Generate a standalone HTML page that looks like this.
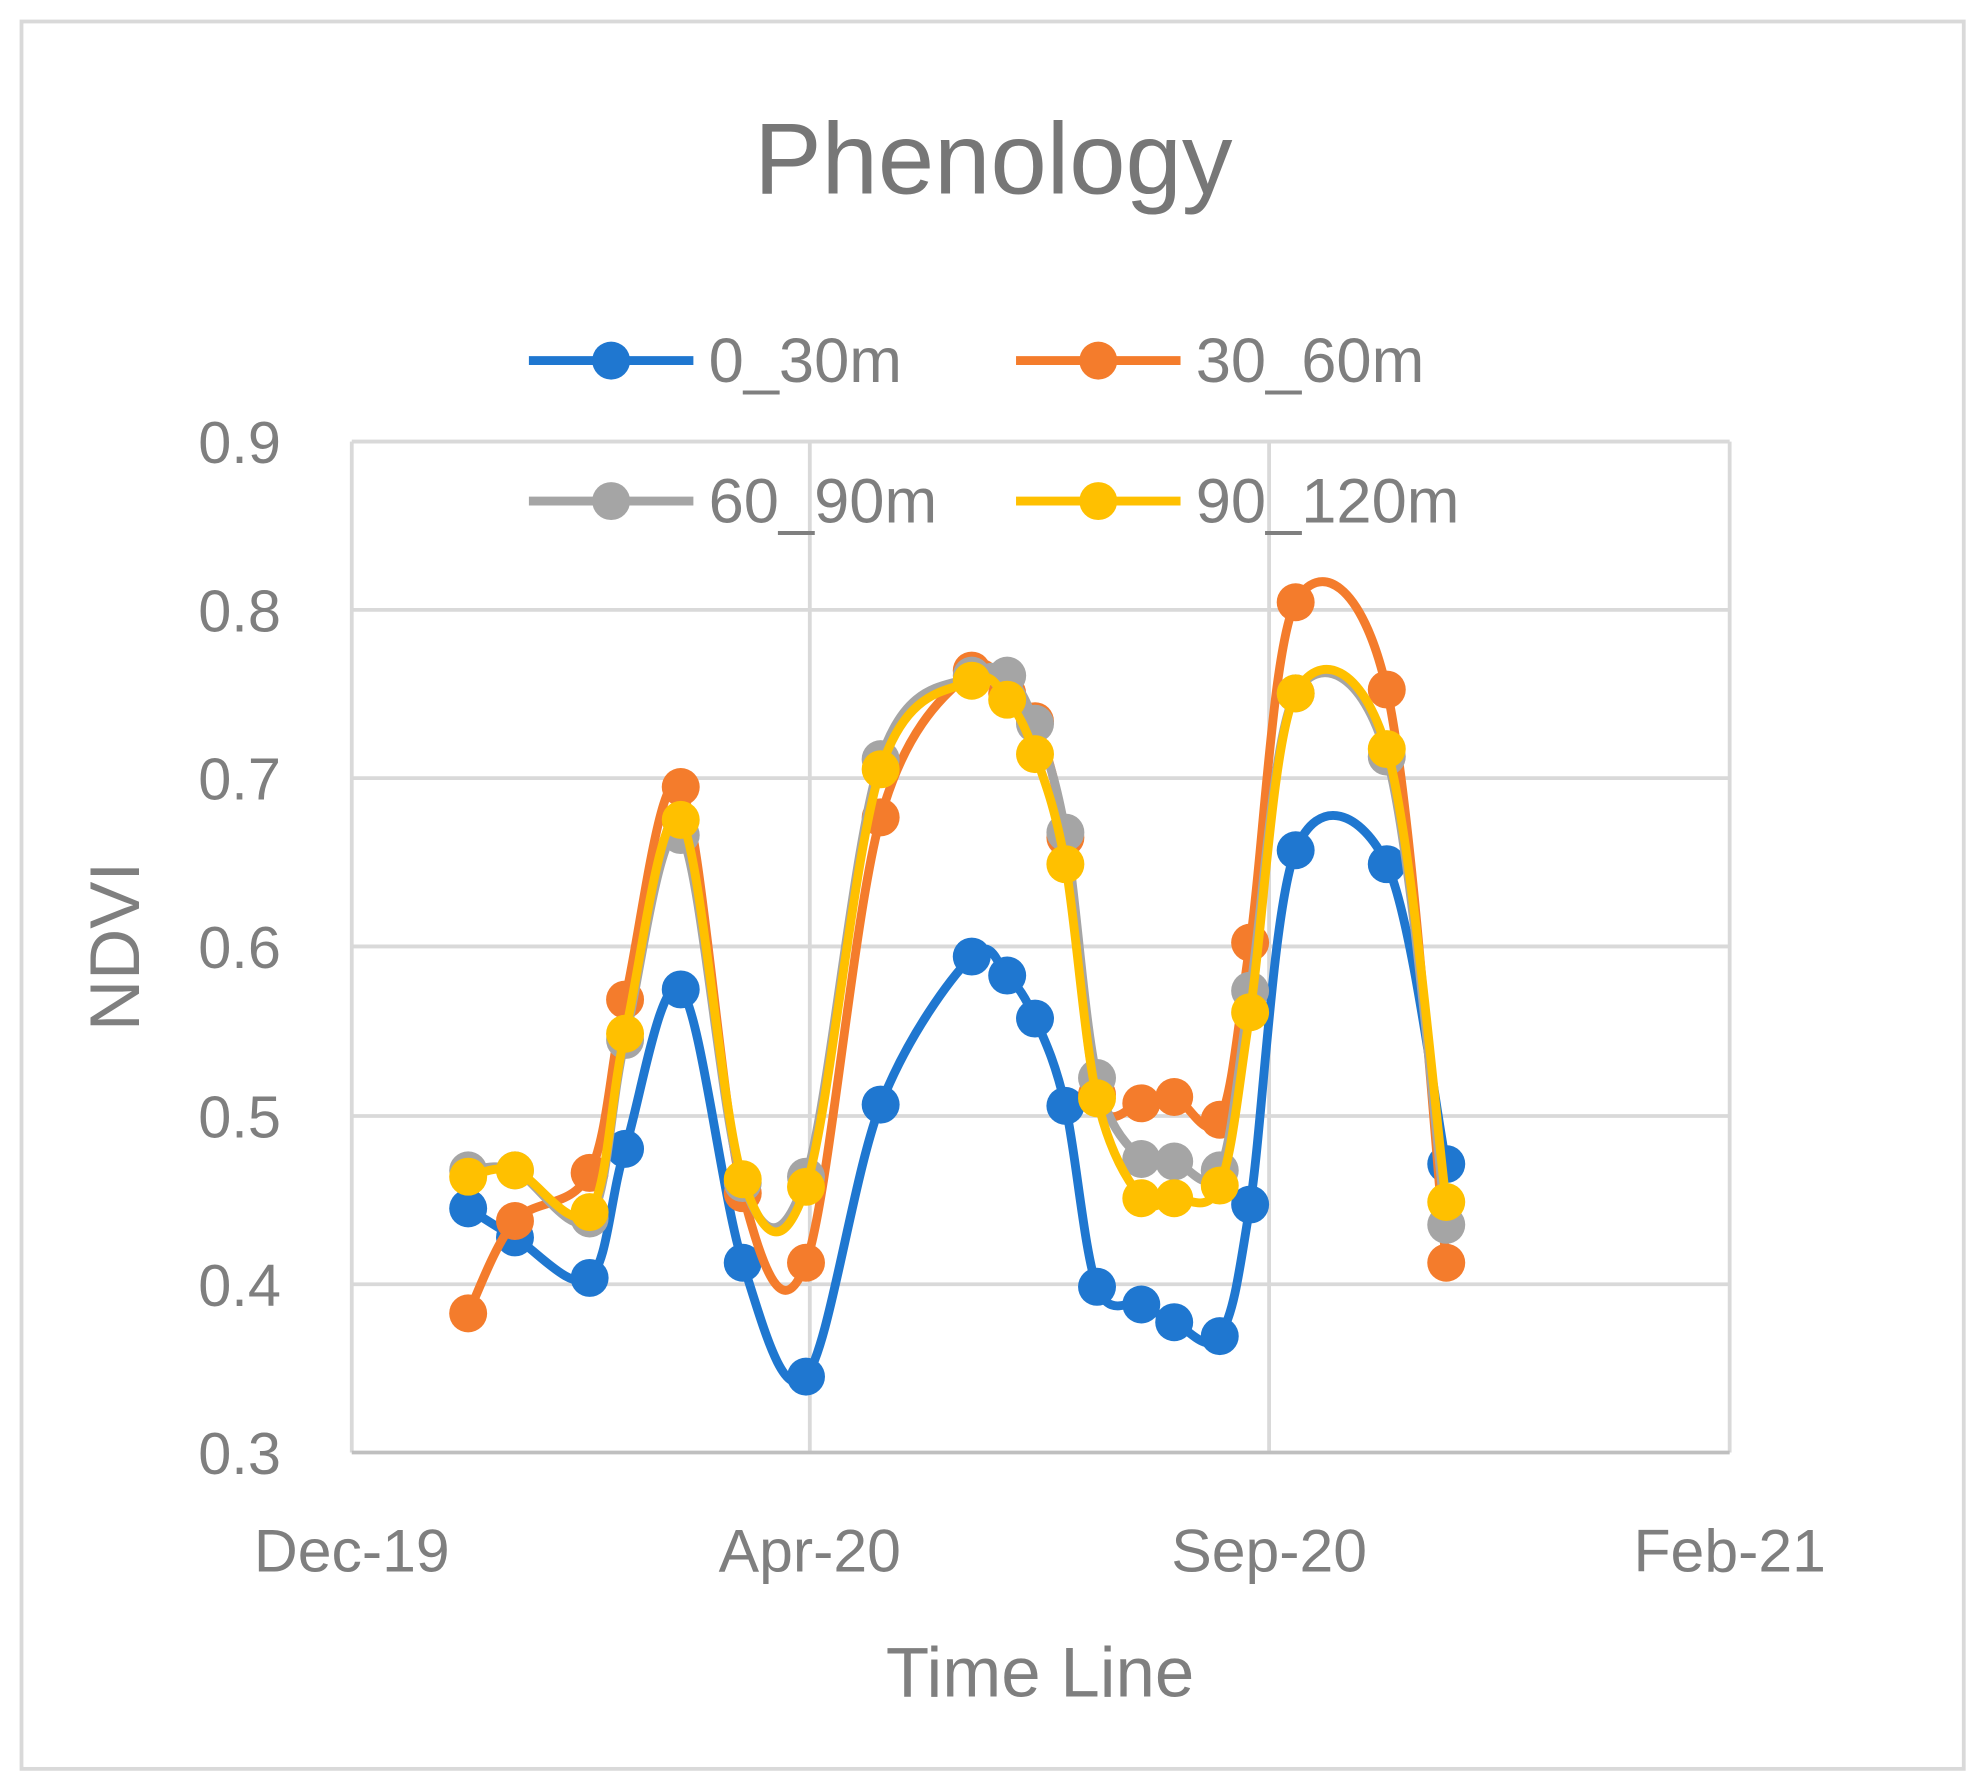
<!DOCTYPE html>
<html><head><style>html,body{margin:0;padding:0;background:#fff}svg{display:block}</style></head>
<body>
<svg id="s" width="1984" height="1791" viewBox="0 0 1568 1415.5" preserveAspectRatio="none" xmlns="http://www.w3.org/2000/svg" font-family="Liberation Sans, sans-serif" fill="#7f7f7f">
<rect x="17" y="17" width="1535" height="1381" fill="#fff" stroke="#d9d9d9" stroke-width="3"/>
<g stroke="#d9d9d9" stroke-width="3" fill="none">
<line x1="278" y1="349" x2="1367" y2="349"/>
<line x1="278" y1="482" x2="1367" y2="482"/>
<line x1="278" y1="615" x2="1367" y2="615"/>
<line x1="278" y1="748" x2="1367" y2="748"/>
<line x1="278" y1="882" x2="1367" y2="882"/>
<line x1="278" y1="1015" x2="1367" y2="1015"/>
<line x1="278" y1="349" x2="278" y2="1148"/>
<line x1="640" y1="349" x2="640" y2="1148"/>
<line x1="1003" y1="349" x2="1003" y2="1148"/>
<line x1="1367" y1="349" x2="1367" y2="1148"/>
</g>
<line x1="278" y1="1148" x2="1367" y2="1148" stroke="#bfbfbf" stroke-width="3"/>
<text x="785" y="153" font-size="80" text-anchor="middle" fill="#777">Phenology</text>
<g font-size="47" text-anchor="end">
<text x="222" y="366">0.9</text><text x="222" y="499">0.8</text><text x="222" y="632">0.7</text>
<text x="222" y="765">0.6</text><text x="222" y="899">0.5</text><text x="222" y="1032">0.4</text><text x="222" y="1165">0.3</text>
</g>
<g font-size="48" text-anchor="middle">
<text x="278" y="1242">Dec-19</text><text x="640" y="1242">Apr-20</text><text x="1003" y="1242">Sep-20</text><text x="1367" y="1242">Feb-21</text>
</g>
<text x="822" y="1341" font-size="56" text-anchor="middle">Time Line</text>
<text transform="translate(110,748) rotate(-90)" font-size="56" text-anchor="middle">NDVI</text>
<g id="series"></g>
<g font-size="50">
<line x1="418" y1="285" x2="548" y2="285" stroke="#1f77d0" stroke-width="7"/><circle cx="483" cy="285" r="15" fill="#1f77d0"/><text x="560" y="302">0_30m</text>
<line x1="803" y1="285" x2="933" y2="285" stroke="#f47c2c" stroke-width="7"/><circle cx="868" cy="285" r="15" fill="#f47c2c"/><text x="945" y="302">30_60m</text>
<line x1="418" y1="396" x2="548" y2="396" stroke="#a5a5a5" stroke-width="7"/><circle cx="483" cy="396" r="15" fill="#a5a5a5"/><text x="560" y="413">60_90m</text>
<line x1="803" y1="396" x2="933" y2="396" stroke="#ffc000" stroke-width="7"/><circle cx="868" cy="396" r="15" fill="#ffc000"/><text x="945" y="413">90_120m</text>
</g>
</svg>
<script>
var X=[370,407,466,494,538,587,637,696,768,796,818,842,867,902,928,964,988,1024,1096,1143];
var S=[
["#1f77d0",[955,978,1010,908,782,998,1088,873,756,771,805,874,1017,1031,1045,1056,952,672,683,920]],
["#f47c2c",[1038,965,927,790,622,943,998,646,530,548,570,662,865,872,867,885,745,476,545,998]],
["#a5a5a5",[925,925,963,822,660,935,930,600,534,534,572,658,852,916,918,925,783,548,598,968]],
["#ffc000",[930,925,958,817,648,932,938,608,538,553,596,683,868,947,947,937,800,548,592,950]]];
var g=document.getElementById("series"),h="";
S.forEach(function(s){
 var Y=s[1],n=X.length,d="M"+X[0]+","+Y[0];
 for(var i=0;i<n-1;i++){
  var p0=i?i-1:0,p3=i+2<n?i+2:n-1,t=6;
  d+=" C"+(X[i]+(X[i+1]-X[p0])/t)+","+(Y[i]+(Y[i+1]-Y[p0])/t)+" "+(X[i+1]-(X[p3]-X[i])/t)+","+(Y[i+1]-(Y[p3]-Y[i])/t)+" "+X[i+1]+","+Y[i+1];
 }
 h+='<path d="'+d+'" fill="none" stroke="'+s[0]+'" stroke-width="7"/>';
 for(var i=0;i<n;i++)h+='<circle cx="'+X[i]+'" cy="'+Y[i]+'" r="15" fill="'+s[0]+'"/>';
});
g.innerHTML=h;
</script>
</body></html>
